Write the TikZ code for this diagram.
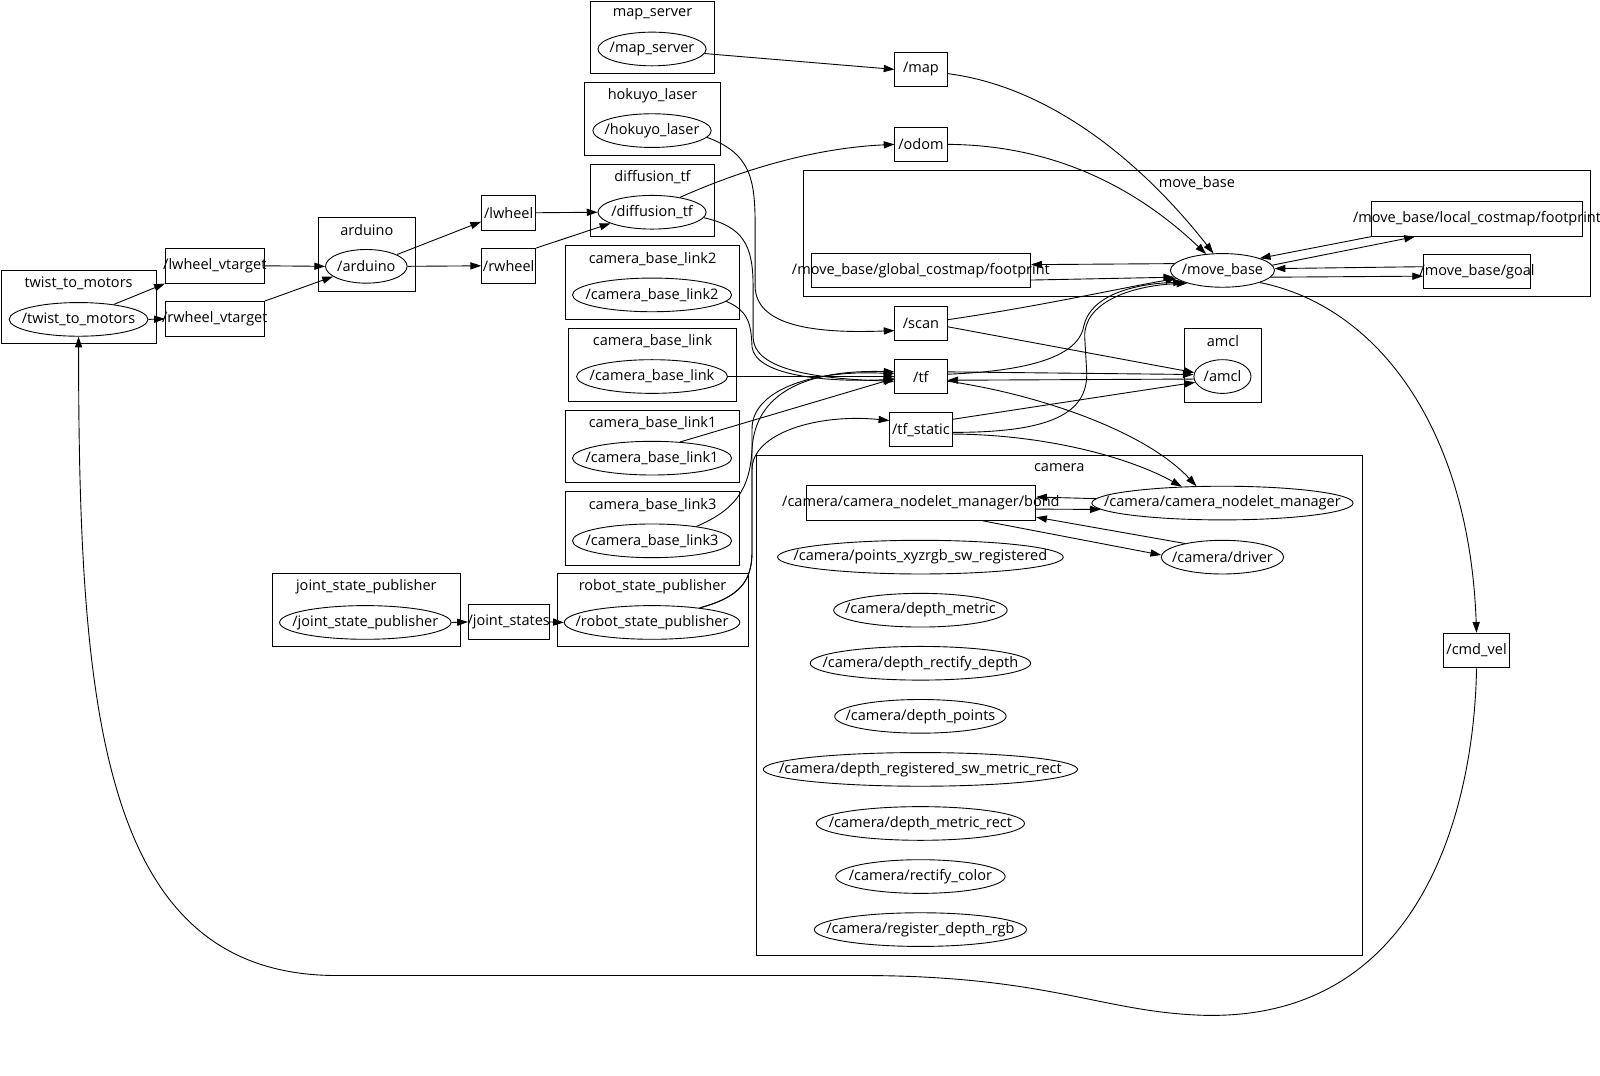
\documentclass[tikz,border=0pt]{standalone}
\usepackage{fontspec}
\setmainfont{Open Sans}
\usetikzlibrary{arrows.meta,shapes.geometric}

\newcommand{\lbl}[1]{\makebox[0pt]{#1}}

\begin{document}
\begin{tikzpicture}[
  x=0.02cm, y=-0.02cm, font=\fontsize{8.1}{10}\selectfont, line width=0.5pt,
  ell/.style={draw,ellipse,inner sep=0,minimum height=33*0.02cm,minimum width=#1*0.02cm},
  tp/.style={draw,rectangle,inner sep=0,minimum height=34*0.02cm,minimum width=#1*0.02cm},
  grp/.style 2 args={draw,inner sep=0,minimum width=#1*0.02cm,minimum height=#2*0.02cm},
  glbl/.style={anchor=center,yshift=-0.26cm,inner sep=0},
  ar/.style={-{Triangle[length=6pt,width=4pt]}}
]
\useasboundingbox (0,0) rectangle (1568,1054);

% groups (ros nodes)
\node[grp={152}{72},label={[glbl]north:twist\_to\_motors}] (gtw) at (77,301) {};
\node[grp={95}{73},label={[glbl]north:arduino}] (gard) at (359.5,249.5) {};
\node[grp={121}{71},label={[glbl]north:map\_server}] (gms) at (639.5,36.5) {};
\node[grp={133}{71},label={[glbl]north:hokuyo\_laser}] (ghk) at (639.5,116.5) {};
\node[grp={121}{71},label={[glbl]north:diffusion\_tf}] (gdt) at (639.5,196.5) {};
\node[grp={171}{72},label={[glbl]north:camera\_base\_link2}] (gc2) at (639.5,277) {};
\node[grp={165}{71},label={[glbl]north:camera\_base\_link}] (gcb) at (639.5,357.5) {};
\node[grp={171}{71},label={[glbl]north:camera\_base\_link1}] (gc1) at (639.5,437.5) {};
\node[grp={171}{72},label={[glbl]north:camera\_base\_link3}] (gc3) at (639.5,518) {};
\node[grp={184}{72},label={[glbl]north:joint\_state\_publisher}] (gjsp) at (359,598) {};
\node[grp={187}{72},label={[glbl]north:robot\_state\_publisher}] (grsp) at (639.5,598) {};
\node[grp={772}{124},label={[glbl]north:move\_base}] (gmb) at (1173,229) {};
\node[grp={75}{72},label={[glbl]north:amcl}] (gam) at (1198.5,358) {};
\node[grp={594}{490},label={[glbl]north:camera}] (gcam) at (1038,691) {};

% nodes
\node[ell=136] (tw) at (77,313) {\lbl{/twist\_to\_motors}};
\node[ell=80] (ard) at (359,261) {\lbl{/arduino}};
\node[ell=106] (ms) at (639,48) {\lbl{/map\_server}};
\node[ell=116] (hk) at (639,128) {\lbl{/hokuyo\_laser}};
\node[ell=106] (dt) at (639,208) {\lbl{/diffusion\_tf}};
\node[ell=156] (c2) at (639,289) {\lbl{/camera\_base\_link2}};
\node[ell=148] (cb) at (639,369) {\lbl{/camera\_base\_link}};
\node[ell=156] (c1) at (639,449) {\lbl{/camera\_base\_link1}};
\node[ell=156] (c3) at (639,530) {\lbl{/camera\_base\_link3}};
\node[ell=168] (jsp) at (358,610) {\lbl{/joint\_state\_publisher}};
\node[ell=172] (rsp) at (639,610) {\lbl{/robot\_state\_publisher}};
\node[ell=102] (mb) at (1198,265) {\lbl{/move\_base}};
\node[ell=56] (am) at (1198,369) {\lbl{/amcl}};
\node[ell=256] (nm) at (1198,493) {\lbl{/camera/camera\_nodelet\_manager}};
\node[ell=280] (pts) at (902,546) {\lbl{/camera/points\_xyzrgb\_sw\_registered}};
\node[ell=120] (dr) at (1198,546) {\lbl{/camera/driver}};
\node[ell=170] (dm) at (902,598) {\lbl{/camera/depth\_metric}};
\node[ell=216] (drd) at (902,650) {\lbl{/camera/depth\_rectify\_depth}};
\node[ell=168] (dp) at (902,702) {\lbl{/camera/depth\_points}};
\node[ell=308] (drs) at (902,754) {\lbl{/camera/depth\_registered\_sw\_metric\_rect}};
\node[ell=204] (dmr) at (902,807) {\lbl{/camera/depth\_metric\_rect}};
\node[ell=166] (rc) at (902,859) {\lbl{/camera/rectify\_color}};
\node[ell=208] (rdr) at (902,911) {\lbl{/camera/register\_depth\_rgb}};

% topics
\node[tp=97] (lv) at (210.5,260.5) {\lbl{/lwheel\_vtarget}};
\node[tp=97] (rv) at (210.5,312.5) {\lbl{/rwheel\_vtarget}};
\node[tp=53] (lw) at (498.5,208.5) {\lbl{/lwheel}};
\node[tp=53] (rw) at (498.5,260.5) {\lbl{/rwheel}};
\node[tp=79] (js) at (498.5,609.5) {\lbl{/joint\_states}};
\node[tp=51] (map) at (902.5,68) {\lbl{/map}};
\node[tp=51] (odom) at (902.5,141.5) {\lbl{/odom}};
\node[tp=215] (gf) at (902.5,265) {\lbl{/move\_base/global\_costmap/footprint}};
\node[tp=207] (lf) at (1447.5,214.5) {\lbl{/move\_base/local\_costmap/footprint}};
\node[tp=105] (goal) at (1447.5,266) {\lbl{/move\_base/goal}};
\node[tp=51] (sc) at (902.5,317) {\lbl{/scan}};
\node[tp=51] (tf) at (902.5,369) {\lbl{/tf}};
\node[tp=61] (ts) at (902.5,421) {\lbl{/tf\_static}};
\node[tp=225] (bd) at (902.5,493) {\lbl{/camera/camera\_nodelet\_manager/bond}};
\node[tp=64] (cv) at (1447,637.5) {\lbl{/cmd\_vel}};

% wheels
\draw[ar] (tw.23) -- (lv.south west);
\draw[ar] (tw.east) -- (rv.west);
\draw[ar] (lv.east) -- (ard.west);
\draw[ar] (rv.north east) -- (ard.197);
\draw[ar] (ard.21) -- (lw.198);
\draw[ar] (ard.east) -- (rw.west);
\draw[ar] (lw.east) -- (dt.west);
\draw[ar] (rw.north east) -- (dt.195);
\draw[ar] (jsp.east) -- (js.west);
\draw[ar] (js.east) -- (rsp.west);

% into /map, /odom, /scan, /tf
\draw[ar] (ms.-5) -- (map.west);
\draw[ar] (dt.28) .. controls (730,165) and (800,145) .. (odom.west);
\draw[ar] (dt.-6) .. controls (728,222) and (738,240) .. (738,280) -- (738,330) .. controls (738,360) and (790,371) .. (tf.190);
\draw[ar] (hk.-7) .. controls (735,150) and (740,175) .. (740,220) -- (740,280) .. controls (740,320) and (800,327) .. (sc.195);
\draw[ar] (c2.-5) .. controls (735,305) and (736,320) .. (737,340) .. controls (740,366) and (800,375) .. (tf.186);
\draw[ar] (cb.east) -- (tf.west);
\draw[ar] (c1.30) -- (tf.184);
\draw[ar] (c3.18) .. controls (720,500) and (735,480) .. (737,440) .. controls (740,385) and (790,362) .. (tf.170);
\draw[ar] (rsp.17) .. controls (725,585) and (737,570) .. (737,540) -- (737,420) .. controls (737,385) and (790,362) .. (tf.174);
\draw[ar] (rsp.17) .. controls (725,585) and (737,570) .. (737,540) -- (737,460) .. controls (737,425) and (800,405) .. (ts.164);

% move_base
\draw[ar] (map.-9) .. controls (1030,85) and (1120,160) .. (mb.118);
\draw[ar] (odom.east) .. controls (1040,142) and (1120,190) .. (mb.135);
\draw[ar] (sc.8) .. controls (1020,300) and (1100,282) .. (mb.190);
\draw[ar] (tf.5) .. controls (1000,364) and (1056,352) .. (1062,320) .. controls (1068,290) and (1110,278) .. (mb.197);
\draw[ar] (ts.-5) .. controls (1030,424) and (1066,405) .. (1065,365) -- (1063,330) .. controls (1062,298) and (1105,280) .. (mb.200);
\draw[ar] (mb.172) -- (gf.3);
\draw[ar] (gf.-5) -- (mb.188);
\draw[ar] (lf.south west) -- (mb.18);
\draw[ar] (mb.6) -- (lf.196);
\draw[ar] (goal.175) -- (mb.2);
\draw[ar] (mb.-8) -- (goal.185);
\draw[ar] (mb.-18) .. controls (1350,300) and (1440,420) .. (cv.north);
\draw[ar] (cv.south) .. controls (1445,780) and (1400,1000) .. (1180,995) .. controls (1080,992) and (1030,957) .. (850,956) -- (330,956) .. controls (100,956) and (77,700) .. (tw.south);

% amcl
\draw[ar] (sc.-7) -- (am.172);
\draw[ar] (tf.10) -- (am.176);
\draw[ar] (am.185) -- (tf.-8);
\draw[ar] (ts.18) -- (am.192);

% camera
\draw[ar] (ts.-8) .. controls (1030,426) and (1110,450) .. (nm.158);
\draw[ar] (tf.-10) .. controls (1010,385) and (1120,420) .. (nm.147);
\draw[ar] (nm.178) -- (bd.3);
\draw[ar] (bd.-3) -- (nm.183);
\draw[ar] (dr.160) -- (bd.-7);
\draw[ar] (bd.-16.5) -- (dr.178);
\end{tikzpicture}
\end{document}
